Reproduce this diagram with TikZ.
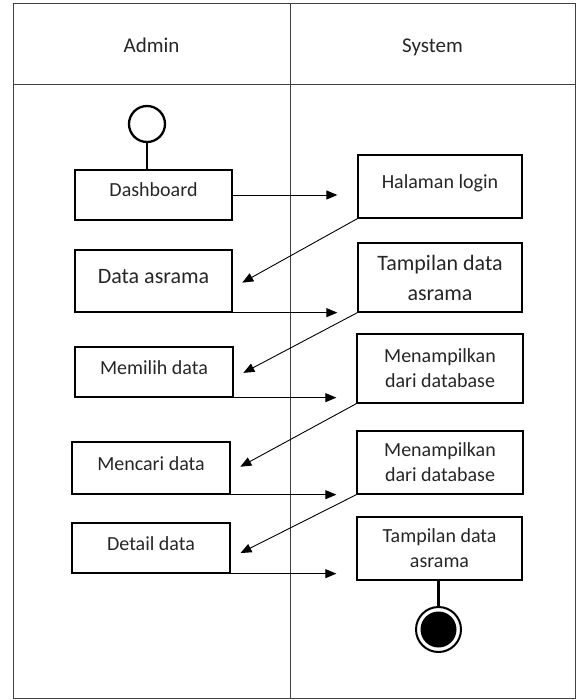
\documentclass[tikz,border=0pt]{standalone}
\usepackage{fontspec}
\setmainfont{Carlito}
\usetikzlibrary{arrows.meta}

\tikzset{
  act/.style={draw, line width=1.3pt, inner sep=0pt, align=center, text=black!85,
    font=\fontsize{20}{25}\selectfont, text height=14pt, text depth=10pt},
  actbig/.style={act, font=\fontsize{22}{30}\selectfont, text height=15.4pt, text depth=11pt},
  acttwo/.style={draw, line width=1.3pt, inner sep=0pt, align=center, text=black!85,
    font=\fontsize{20}{25}\selectfont},
  lanehead/.style={text=black!85, font=\fontsize{21}{25}\selectfont, text height=14pt, text depth=5pt},
  flow/.style={-{Triangle[length=11pt,width=9pt]}, line width=0.9pt},
  lane/.style={line width=1pt, black!75},
}

\begin{document}
\begin{tikzpicture}[x=1pt,y=-1pt]
\useasboundingbox (0,0) rectangle (576,700);
% swimlanes
\draw[lane] (13,4) rectangle (575,698);
\draw[lane] (13,85) -- (575,85);
\draw[lane] (290,4) -- (290,698);
\node[lanehead] (admin) at (151.5,48) {Admin};
\node[lanehead] (system) at (432.5,48) {System};

\node[draw, circle, line width=2.3pt, minimum size=36pt, inner sep=0pt] (start) at (147,124) {};

\node[act, minimum width=157pt, minimum height=50pt] (dash) at (153.5,195) {Dashboard};
\node[act, minimum width=164pt, minimum height=63pt] (login) at (440,186.5) {Halaman login};
\node[actbig, minimum width=157pt, minimum height=62pt] (data) at (153.5,281) {Data asrama};
\node[acttwo, font=\fontsize{22}{30}\selectfont, minimum width=164pt, minimum height=69pt] (tampil) at (440,277.5) {Tampilan data\\asrama};
\node[act, minimum width=158pt, minimum height=50pt] (pilih) at (154,372) {Memilih data};
\node[acttwo, minimum width=166pt, minimum height=69pt] (tampildb) at (440,368.5) {Menampilkan\\dari database};
\node[act, minimum width=158pt, minimum height=52pt] (cari) at (151,468) {Mencari data};
\node[acttwo, minimum width=166pt, minimum height=63pt] (caridb) at (440,462.5) {Menampilkan\\dari database};
\node[act, minimum width=158pt, minimum height=50pt] (detail) at (151,548) {Detail data};
\node[acttwo, minimum width=165pt, minimum height=63pt] (tampildetail) at (439.5,548.5) {Tampilan data\\asrama};

\node[draw, circle, line width=2pt, minimum size=45pt, inner sep=0pt] (final) at (438.5,629.5) {};
\node[circle, fill=black, minimum size=36pt, inner sep=0pt] (finaldot) at (final) {};

\draw[line width=2.3pt] (start) -- (start |- dash.north);
\draw[line width=2.3pt] (tampildetail.south -| final) -- (final.north);

\draw[flow, shorten >=20pt] (dash.east) -- (dash.east -| login.west);
\draw[flow, shorten >=11pt] (login.south west) -- ([yshift=-7pt]data.east);
\draw[flow, shorten >=20pt] (data.south east) -- (data.south east -| tampil.west);
\draw[flow, shorten >=11pt] (tampil.south west) -- ([yshift=-6pt]pilih.east);
\draw[flow, shorten >=20pt] (pilih.south east) -- (pilih.south east -| tampildb.west);
\draw[flow, shorten >=11pt] (tampildb.south west) -- ([yshift=-4pt]cari.east);
\draw[flow, shorten >=20pt] (cari.south east) -- (cari.south east -| caridb.west);
\draw[flow, shorten >=11pt] (caridb.south west) -- ([yshift=-10pt]detail.east);
\draw[flow, shorten >=20pt] (detail.south east) -- (detail.south east -| tampildetail.west);
\end{tikzpicture}
\end{document}
